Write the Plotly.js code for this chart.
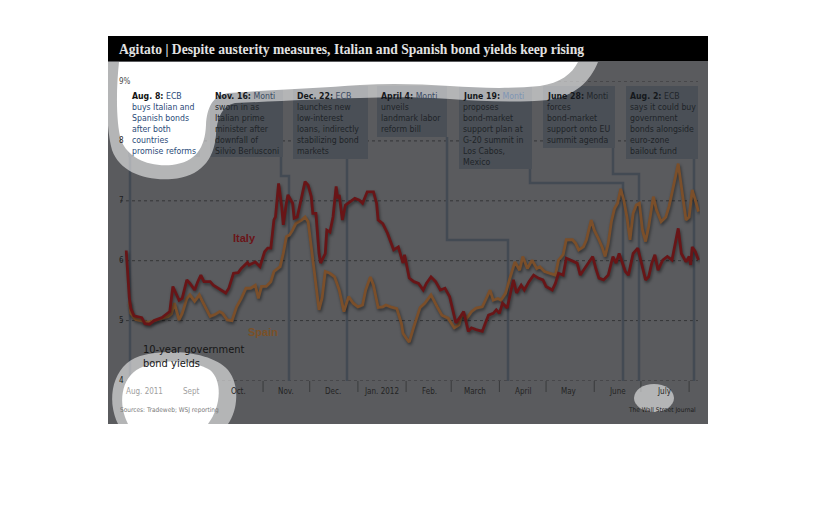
<!DOCTYPE html>
<html><head><meta charset="utf-8">
<script src="https://cdn.plot.ly/plotly-3.0.1.min.js"></script>
<style>html,body{margin:0;padding:0;background:#fff;overflow:hidden}</style>
</head><body>
<div id="chart" style="width:816px;height:518px"></div>
<script>
// ---------------- DATA ----------------
const italyDates = ['2011-08-05','2011-08-07','2011-08-08','2011-08-10','2011-08-15','2011-08-17','2011-08-20','2011-08-23','2011-08-28',
 '2011-09-02','2011-09-04','2011-09-05','2011-09-08','2011-09-10','2011-09-13','2011-09-15','2011-09-18','2011-09-20','2011-09-22','2011-09-24','2011-09-28','2011-09-30',
 '2011-10-03','2011-10-06','2011-10-08','2011-10-10','2011-10-13','2011-10-16','2011-10-18','2011-10-22','2011-10-23','2011-10-27','2011-10-30',
 '2011-11-02','2011-11-04','2011-11-06','2011-11-08','2011-11-09','2011-11-11','2011-11-13','2011-11-14','2011-11-16','2011-11-17','2011-11-20','2011-11-21','2011-11-23','2011-11-26','2011-11-28','2011-11-30',
 '2011-12-02','2011-12-03','2011-12-05','2011-12-07','2011-12-08','2011-12-11','2011-12-12','2011-12-14','2011-12-16','2011-12-18','2011-12-19','2011-12-20','2011-12-22','2011-12-24','2011-12-27','2011-12-30',
 '2012-01-02','2012-01-04','2012-01-07','2012-01-11','2012-01-13','2012-01-14','2012-01-17','2012-01-20','2012-01-24','2012-01-27','2012-01-30','2012-01-31',
 '2012-02-03','2012-02-06','2012-02-09','2012-02-12','2012-02-14','2012-02-17','2012-02-20','2012-02-23','2012-02-26','2012-02-29',
 '2012-03-02','2012-03-04','2012-03-07','2012-03-09','2012-03-12','2012-03-14','2012-03-17','2012-03-21','2012-03-23','2012-03-25','2012-03-28','2012-03-30',
 '2012-04-01','2012-04-03','2012-04-06','2012-04-10','2012-04-12','2012-04-15','2012-04-17','2012-04-20','2012-04-23','2012-04-26','2012-04-29',
 '2012-05-01','2012-05-05','2012-05-07','2012-05-09','2012-05-12','2012-05-14','2012-05-17','2012-05-21','2012-05-23','2012-05-25','2012-05-27','2012-05-29','2012-05-31',
 '2012-06-02','2012-06-04','2012-06-07','2012-06-10','2012-06-13','2012-06-15','2012-06-17','2012-06-19','2012-06-21','2012-06-23','2012-06-26','2012-06-29',
 '2012-07-01','2012-07-04','2012-07-06','2012-07-08','2012-07-10','2012-07-12','2012-07-15','2012-07-18','2012-07-21','2012-07-23','2012-07-25','2012-07-27','2012-07-30',
 '2012-08-01','2012-08-02','2012-08-03','2012-08-05','2012-08-07'];
const italyYield = [6.17,5.38,5.20,5.08,5.05,4.95,4.94,5.00,5.05,
 5.15,5.57,5.51,5.34,5.37,5.68,5.62,5.51,5.65,5.76,5.65,5.65,5.59,
 5.54,5.48,5.46,5.54,5.79,5.80,5.87,5.97,5.93,5.98,5.90,
 6.15,6.21,6.21,6.68,6.73,7.29,6.90,6.60,6.96,7.10,6.96,6.71,6.73,7.07,7.32,7.26,
 7.07,6.79,6.79,6.12,5.96,6.12,6.51,6.48,6.73,7.24,7.04,7.10,6.68,6.93,6.98,7.04,
 7.01,6.96,7.15,7.15,6.96,6.68,6.62,6.46,6.18,6.23,5.96,6.10,
 5.71,5.65,5.62,5.51,5.62,5.73,5.65,5.51,5.54,5.40,
 5.18,4.96,5.07,5.15,4.82,4.88,4.85,4.82,4.96,5.09,5.12,5.18,
 5.12,5.29,5.21,5.68,5.46,5.59,5.51,5.65,5.76,5.71,5.68,
 5.57,5.51,5.62,5.79,5.76,6.04,6.01,5.96,5.76,5.84,5.93,6.01,6.07,
 5.87,5.71,5.68,5.76,6.07,5.96,6.12,5.98,5.82,5.76,6.12,6.21,
 6.01,5.68,5.73,5.96,6.10,5.84,6.01,6.07,6.01,6.29,6.54,6.12,5.98,
 6.07,5.93,6.23,6.15,6.01];

const spainDates = ['2011-08-07','2011-08-08','2011-08-11','2011-08-15','2011-08-19','2011-08-23','2011-08-28',
 '2011-09-01','2011-09-03','2011-09-05','2011-09-08','2011-09-10','2011-09-13','2011-09-15','2011-09-18','2011-09-21','2011-09-23','2011-09-25','2011-09-28',
 '2011-10-01','2011-10-04','2011-10-06','2011-10-09','2011-10-12','2011-10-15','2011-10-18','2011-10-21','2011-10-24','2011-10-27','2011-10-29','2011-10-31',
 '2011-11-03','2011-11-06','2011-11-08','2011-11-12','2011-11-14','2011-11-16','2011-11-18','2011-11-20','2011-11-22','2011-11-26','2011-11-28','2011-11-30',
 '2011-12-02','2011-12-03','2011-12-04','2011-12-07','2011-12-09','2011-12-11','2011-12-14','2011-12-17','2011-12-20','2011-12-23','2011-12-26','2011-12-29',
 '2012-01-01','2012-01-04','2012-01-06','2012-01-09','2012-01-11','2012-01-14','2012-01-17','2012-01-19','2012-01-22','2012-01-26','2012-01-29','2012-01-30',
 '2012-02-01','2012-02-03','2012-02-06','2012-02-10','2012-02-13','2012-02-17','2012-02-21','2012-02-24','2012-02-28',
 '2012-03-03','2012-03-06','2012-03-08','2012-03-11','2012-03-14','2012-03-17','2012-03-21','2012-03-23','2012-03-26','2012-03-28','2012-03-31',
 '2012-04-02','2012-04-05','2012-04-08','2012-04-11','2012-04-14','2012-04-16','2012-04-19','2012-04-22','2012-04-25','2012-04-27','2012-04-30',
 '2012-05-03','2012-05-07','2012-05-09','2012-05-12','2012-05-14','2012-05-18','2012-05-20','2012-05-22','2012-05-25','2012-05-27','2012-05-30',
 '2012-06-01','2012-06-04','2012-06-06','2012-06-08','2012-06-10','2012-06-12','2012-06-14','2012-06-16','2012-06-18','2012-06-20','2012-06-22','2012-06-24','2012-06-26','2012-06-28','2012-06-30',
 '2012-07-02','2012-07-04','2012-07-06','2012-07-09','2012-07-11','2012-07-14','2012-07-17','2012-07-19','2012-07-21','2012-07-23','2012-07-25','2012-07-27','2012-07-30',
 '2012-08-01','2012-08-03','2012-08-05','2012-08-07'];
const spainYield = [5.32,5.12,5.02,5.00,4.97,5.00,5.04,
 5.07,5.11,5.29,5.01,5.12,5.37,5.43,5.32,5.43,5.32,5.23,5.07,
 5.10,5.15,5.12,5.01,5.00,5.23,5.37,5.54,5.54,5.59,5.37,5.57,
 5.57,5.65,5.82,5.90,6.12,6.40,6.43,6.51,6.62,6.68,6.73,6.65,
 6.23,6.01,5.84,5.18,5.38,5.82,5.79,5.73,5.51,5.15,5.40,5.29,
 5.23,5.26,5.51,5.73,5.59,5.22,5.23,5.26,5.23,5.20,4.95,4.79,
 4.71,4.64,4.90,5.22,5.29,5.43,5.23,5.09,5.04,
 4.88,4.93,5.12,5.04,5.15,5.21,5.23,5.34,5.51,5.34,5.37,
 5.34,5.46,5.73,5.98,5.84,6.07,5.87,6.01,5.87,5.90,5.82,
 5.79,5.76,6.01,6.10,6.35,6.35,6.29,6.18,6.23,6.35,6.68,
 6.51,6.35,6.23,6.07,6.29,6.65,6.87,6.96,7.20,7.01,6.73,6.35,6.79,6.93,6.96,
 6.51,6.32,6.57,7.07,6.85,6.65,6.73,6.90,7.13,7.35,7.62,7.24,6.68,
 6.73,7.18,7.01,6.82];

const monthLabels = ['Aug. 2011','Sept','Oct.','Nov.','Dec.','Jan. 2012','Feb.','March','April','May','June','July'];
const monthLabelDates = ['2011-08-17','2011-09-16','2011-10-16','2011-11-16','2011-12-16','2012-01-16','2012-02-16','2012-03-16','2012-04-16','2012-05-16','2012-06-16','2012-07-16'];
const monthStarts = ['2011-09-01','2011-10-01','2011-11-01','2011-12-01','2012-01-01','2012-02-01','2012-03-01','2012-04-01','2012-05-01','2012-06-01','2012-07-01','2012-08-01'];
const yTickVals = [4,5,6,7,8,9];
const yTickText = ['4','5','6','7','8','9%'];

const eventHeads = ['Aug. 8:','Nov. 16:','Dec. 22:','April 4:','June 19:','June 28:','Aug. 2:'];
const eventFirst = ['ECB','Monti','ECB','Monti','Monti','Monti','ECB'];
const eventLines = [
 ['buys Italian and','Spanish bonds','after both','countries','promise reforms'],
 ['sworn in as','Italian prime','minister after','downfall of','Silvio Berlusconi'],
 ['launches new','low-interest','loans, indirectly','stabilizing bond','markets'],
 ['unveils','landmark labor','reform bill'],
 ['proposes','bond-market','support plan at','G-20 summit in','Los Cabos,','Mexico'],
 ['forces','bond-market','support onto EU','summit agenda'],
 ['says it could buy','government','bonds alongside','euro-zone','bailout fund']
];
const titleText = '<b>Agitato | Despite austerity measures, Italian and Spanish bond yields keep rising</b>';

// ---------------- LAYOUT HELPERS ----------------
const W = 816, H = 518;
const PX = x => x / W, PY = y => 1 - y / H;
const toPaper = d => d.replace(/(-?\d+(?:\.\d+)?),(-?\d+(?:\.\d+)?)/g,
  (m, a, b) => PX(+a).toFixed(5) + ',' + PY(+b).toFixed(5));
const NARROW = "'Liberation Sans Narrow','Arial Narrow','DejaVu Sans Condensed',sans-serif";
const BOXFONT = 8.7;

// event box geometry (pixels)
const boxGeo = [
 {x0:128,x1:200,y1:157,tx:131,lead:'M130,157 L130,381'},
 {x0:210,x1:283,y1:157,tx:214,lead:'M281,157 L281,176 L289,176 L289,381'},
 {x0:293,x1:368,y1:159,tx:296,lead:'M347,159 L347,381'},
 {x0:377,x1:447,y1:137,tx:380,lead:'M447,137 L447,240 L508,240 L508,381'},
 {x0:459,x1:532,y1:169,tx:462,lead:'M530,169 L530,183 L623,183 L623,381'},
 {x0:543,x1:615,y1:148,tx:546,lead:'M613,148 L613,174 L639,174 L639,381'},
 {x0:626,x1:698,y1:159,tx:629,lead:'M694,159 L694,381'}
];
const firstColor = ['#2b4a78','#3b4b62','#3b4b62','#3b4b62','#7f95b5','#22262b','#22262b'];
const bodyColor  = ['#2b4a78','#202428','#202428','#202428','#202428','#202428','#202428'];

const shapes = [];
shapes.push({type:'rect',xref:'paper',yref:'paper',x0:PX(108),x1:PX(708),y0:PY(424),y1:PY(36),
  fillcolor:'#5a5b5e',line:{width:0},layer:'below'});
yTickVals.forEach(v => shapes.push({type:'line',xref:'paper',yref:'y',x0:PX(120),x1:PX(698),y0:v,y1:v,
  line:{color:'#343537',width:1,dash:'dot'},layer:'below'}));
monthStarts.forEach(d => shapes.push({type:'line',xref:'x',yref:'paper',x0:d,x1:d,y0:PY(392),y1:PY(381),
  line:{color:'#3a3b3d',width:1},layer:'below'}));
boxGeo.forEach(b => shapes.push({type:'rect',xref:'paper',yref:'paper',x0:PX(b.x0),x1:PX(b.x1),y0:PY(b.y1),y1:PY(86),
  fillcolor:'#4a4f56',line:{width:0},layer:'below'}));
boxGeo.forEach(b => shapes.push({type:'path',xref:'paper',yref:'paper',path:toPaper(b.lead),
  line:{color:'#434a53',width:2.5},layer:'below'}));

// highlight blobs (drawn above the data)
const topHalo = 'M108,62 L598,62 C590,82 575,96 548,100 C515,103 480,101 450,99 C420,97 390,97 360,98 C320,99 280,101 235,103 C222,106 217,118 216,135 C214,160 200,177 172,179 C145,181 120,172 112,150 C106,128 106,90 108,62 Z';
const topCore = 'M119,62 L578,62 C572,74 560,83 540,86 C510,89 480,88 450,86 C420,84 390,83 360,85 C320,88 270,90 228,93 C212,96 207,108 206,125 C205,148 196,162 172,165 C148,167 128,158 121,140 C116,122 116,90 119,62 Z';
const botHalo = 'M118,424 C106,400 112,365 140,356 C168,348 212,352 228,370 C240,385 238,410 228,424 Z';
const botCore = 'M128,424 C118,405 120,378 140,368 C160,358 195,360 210,370 C222,380 222,405 208,424 Z';
shapes.push({type:'path',xref:'paper',yref:'paper',path:toPaper(topHalo),fillcolor:'rgba(255,255,255,0.55)',line:{width:0},layer:'above'});
shapes.push({type:'path',xref:'paper',yref:'paper',path:toPaper(topCore),fillcolor:'#ffffff',line:{width:0},layer:'above'});
shapes.push({type:'path',xref:'paper',yref:'paper',path:toPaper(botHalo),fillcolor:'rgba(255,255,255,0.55)',line:{width:0},layer:'above'});
shapes.push({type:'path',xref:'paper',yref:'paper',path:toPaper(botCore),fillcolor:'#ffffff',line:{width:0},layer:'above'});
shapes.push({type:'circle',xref:'paper',yref:'paper',x0:PX(634),x1:PX(674),y0:PY(412),y1:PY(384),fillcolor:'rgba(255,255,255,0.55)',line:{width:0},layer:'above'});
shapes.push({type:'rect',xref:'paper',yref:'paper',x0:PX(108),x1:PX(708),y0:PY(61),y1:PY(36),fillcolor:'#000000',line:{width:0},layer:'above'});

// annotations
const ann = [];
function txt(x, y, text, size, color, anchor, family) {
  ann.push({xref:'paper', yref:'paper', x: PX(x), y: PY(y), text: text, showarrow:false,
    xanchor: anchor || 'left', yanchor:'middle', borderpad:0,
    font:{family: family || NARROW, size: size, color: color}});
}
eventHeads.forEach((h, i) => {
  const g = boxGeo[i];
  const headCol = i === 0 ? '#111111' : '#15181c';
  txt(g.tx, 96, '<b><span style="color:' + headCol + '">' + h + '</span></b> <span style="color:' + firstColor[i] + '">' + eventFirst[i] + '</span>', BOXFONT, bodyColor[i]);
  eventLines[i].forEach((ln, k) => txt(g.tx, 96 + 11 * (k + 1), ln, BOXFONT, bodyColor[i]));
});
yTickVals.forEach((v, i) => ann.push({xref:'paper', yref:'y', x:PX(118), y:v, text:yTickText[i], showarrow:false,
  xanchor:'left', yanchor:'middle', borderpad:0, font:{family:NARROW, size:8, color: v === 9 ? '#4a4a4a' : '#1e1e1e'}}));
monthLabels.forEach((m, i) => ann.push({xref:'x', yref:'paper', x:monthLabelDates[i], y:PY(391), text:m, showarrow:false,
  xanchor:'center', yanchor:'middle', borderpad:0, font:{family:NARROW, size:8, color: i < 2 ? '#a0a0a0' : '#242424'}}));
txt(244, 238, '<b>Italy</b>', 11, '#6a1518', 'center', "'Liberation Sans',Arial,sans-serif");
txt(263, 332, '<b>Spain</b>', 11, '#7b5128', 'center', "'Liberation Sans',Arial,sans-serif");
txt(142, 349, '10-year government', 11, '#161616');
txt(142, 363, 'bond yields', 11, '#161616');
txt(119, 410, 'Sources: Tradeweb; WSJ reporting', 6.5, '#7a7a7a');
txt(697, 410, 'The Wall Street Journal', 6.5, '#1c1c1c', 'right');

const traces = [
  {x: spainDates, y: spainYield, type:'scatter', mode:'lines', name:'Spain', line:{color:'#7b4f2a', width:2.8}},
  {x: italyDates, y: italyYield, type:'scatter', mode:'lines', name:'Italy', line:{color:'#681517', width:2.8}}
];

const layout = {
  width: W, height: H,
  margin:{l:0, r:0, t:0, b:0},
  paper_bgcolor:'#ffffff', plot_bgcolor:'rgba(0,0,0,0)',
  showlegend:false,
  title:{text: titleText, xref:'paper', yref:'paper', x: PX(119), xanchor:'left', y: PY(49), yanchor:'middle',
    font:{family:"'Liberation Serif','DejaVu Serif',serif", size:13.6, color:'#e2e2e2'}},
  xaxis:{type:'date', domain:[PX(120), PX(700)], range:['2011-08-01','2012-08-08'], visible:false, fixedrange:true},
  yaxis:{domain:[PY(380.5), PY(81)], range:[4, 9], visible:false, fixedrange:true},
  shapes: shapes,
  annotations: ann
};

Plotly.newPlot('chart', traces, layout, {displayModeBar:false, staticPlot:true}).then(gd => {
  gd.querySelectorAll('.scatterlayer .trace').forEach(t => {
    t.style.filter = 'drop-shadow(1px 2px 1.5px rgba(0,0,0,0.45))';
  });
});
</script>
</body></html>
